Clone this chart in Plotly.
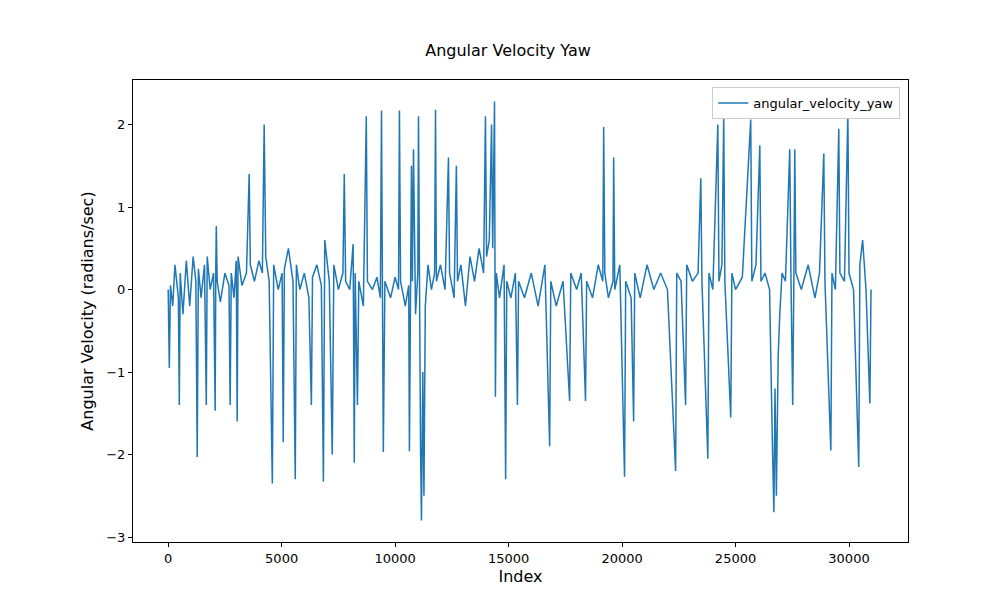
import plotly.graph_objects as go

# index (thousands) and yaw rate, spikes plus baseline wiggle
index_k = [
    0.0, 0.05, 0.1, 0.2, 0.3, 0.45, 0.49, 0.53, 0.65, 0.8, 0.95, 1.1, 1.22, 1.28, 1.33, 1.45,
    1.6, 1.68, 1.72, 1.85, 2.0, 2.07, 2.1, 2.12, 2.16, 2.3, 2.5, 2.68, 2.73, 2.78, 2.9, 3.0,
    3.04, 3.08, 3.25, 3.45, 3.57, 3.62, 3.8, 4.0, 4.15, 4.23, 4.3, 4.45, 4.59, 4.65, 4.85,
    5.02, 5.07, 5.12, 5.3, 5.5, 5.6, 5.65, 5.8, 6.0, 6.2, 6.31, 6.36, 6.55, 6.75, 6.84, 6.9,
    7.1, 7.23, 7.3, 7.5, 7.7, 7.76, 7.82, 8.0, 8.15, 8.2, 8.24, 8.34, 8.4, 8.6, 8.73, 8.78,
    9.0, 9.2, 9.35, 9.4, 9.45, 9.48, 9.55, 9.8, 10.0, 10.15, 10.19, 10.24, 10.45, 10.6,
    10.63, 10.68, 10.72, 10.76, 10.81, 10.9, 11.0, 11.03, 11.08, 11.12, 11.16, 11.22, 11.27,
    11.33, 11.45, 11.6, 11.74, 11.78, 11.82, 12.0, 12.2, 12.35, 12.4, 12.6, 12.7, 12.75,
    12.9, 13.1, 13.3, 13.5, 13.7, 13.9, 13.98, 14.03, 14.15, 14.25, 14.3, 14.38, 14.4, 14.42,
    14.46, 14.6, 14.8, 14.87, 14.92, 15.1, 15.3, 15.39, 15.44, 15.7, 16.0, 16.3, 16.6, 16.81,
    16.86, 17.1, 17.4, 17.69, 17.74, 18.0, 18.2, 18.39, 18.44, 18.7, 18.95, 19.15, 19.19,
    19.24, 19.4, 19.6, 19.63, 19.68, 19.9, 20.11, 20.16, 20.4, 20.51, 20.56, 20.8, 21.1,
    21.4, 21.7, 22.0, 22.36, 22.41, 22.6, 22.8, 22.85, 23.1, 23.35, 23.47, 23.52, 23.78,
    23.83, 24.0, 24.22, 24.27, 24.4, 24.48, 24.53, 24.79, 24.84, 25.0, 25.3, 25.67, 25.72,
    25.9, 26.07, 26.12, 26.3, 26.5, 26.55, 26.62, 26.69, 26.74, 26.8, 26.88, 26.95, 27.05,
    27.2, 27.39, 27.44, 27.52, 27.57, 27.61, 27.66, 27.9, 28.2, 28.5, 28.7, 28.89, 28.94,
    29.2, 29.25, 29.4, 29.55, 29.6, 29.8, 29.95, 30.0, 30.2, 30.43, 30.48, 30.6, 30.75,
    30.92, 30.97,
]
yaw = [
    0.0, -0.95, 0.05, -0.2, 0.3, -0.1, -1.4, 0.2, -0.3, 0.35, -0.2, 0.4, 0.1, -2.03, 0.25,
    -0.1, 0.3, -1.4, 0.4, 0.0, 0.2, -1.47, 0.3, 0.77, 0.1, -0.15, 0.2, 0.05, -1.4, 0.2,
    -0.1, 0.35, -1.6, 0.4, 0.05, 0.2, 1.4, 0.3, 0.1, 0.35, 0.2, 2.0, 0.4, 0.1, -2.35,
    0.3, 0.0, 0.2, -1.85, 0.25, 0.5, 0.1, -2.3, 0.3, 0.0, 0.2, -0.1, -1.4, 0.15, 0.3, 0.05,
    -2.33, 0.6, 0.1, -2.0, 0.3, 0.0, 0.2, 1.4, 0.1, 0.0, 0.55, -2.1, 0.2, -1.4, 0.1, -0.2,
    2.1, 0.1, 0.0, 0.15, -0.1, 2.17, 0.05, -1.97, 0.1, -0.1, 0.15, 0.0, 2.17, 0.1, -0.2,
    0.05, -1.96, 0.2, 1.5, 0.1, 1.7, -0.3, 0.2, 2.1, -0.5, -1.9, -2.8, -1.0, -2.5, -0.2,
    0.3, 0.0, 0.2, 2.18, 0.1, 0.3, 0.0, 1.6, 0.2, -0.1, 1.5, 0.1, 0.3, -0.2, 0.4, 0.1,
    0.5, 0.2, 2.1, 0.4, 0.6, 2.0, 0.5, 2.28, 0.3, -1.3, 0.2, -0.1, 0.3, -2.3, 0.1, -0.1,
    0.2, -1.4, 0.1, -0.1, 0.2, -0.2, 0.3, -1.9, 0.1, -0.2, 0.1, -1.35, 0.2, 0.0, 0.2,
    -1.35, 0.1, -0.1, 0.3, 0.1, 1.97, 0.2, -0.1, 0.1, 1.6, 0.0, 0.3, -2.27, 0.1, -0.1,
    -1.6, 0.2, -0.1, 0.3, 0.0, 0.2, 0.0, -2.2, 0.2, 0.1, -1.4, 0.3, 0.1, 0.2, 1.35, 0.1,
    -2.05, 0.2, 0.0, 2.0, 0.1, 0.3, 2.1, 0.1, -1.55, 0.2, 0.0, 0.15, 2.06, 0.1, 0.3, 1.75,
    0.1, 0.2, 0.0, -0.6, -1.8, -2.7, -1.2, -2.5, -0.8, -0.3, 0.2, 0.1, 1.7, 0.2, -1.4, 0.1,
    1.7, 0.2, 0.0, 0.3, -0.1, 0.2, 1.65, 0.1, -1.95, 0.2, 0.0, 1.95, 0.2, 0.1, 2.15, 0.2,
    0.0, -2.15, 0.3, 0.6, 0.0, -1.38, 0.0,
]
index = [k * 1000 for k in index_k]

x_ticks = [0, 5000, 10000, 15000, 20000, 25000, 30000]
y_ticks = [-3, -2, -1, 0, 1, 2]

fig = go.Figure()
fig.add_trace(go.Scatter(
    x=index, y=yaw, mode='lines', name='angular_velocity_yaw',
    line=dict(color='#1f77b4', width=1.5)
))

axis_style = dict(showgrid=False, zeroline=False, showline=True, linecolor='black',
                  mirror=True, ticks='outside', tickcolor='black', ticklen=4,
                  automargin=False)
fig.update_layout(
    width=1000, height=600,
    plot_bgcolor='white', paper_bgcolor='white',
    font=dict(family='DejaVu Sans', size=13, color='black'),
    title=dict(text='Angular Velocity Yaw', x=0.5, xanchor='center', y=0.92, yanchor='bottom',
               font=dict(size=16)),
    margin=dict(l=125, r=100, t=72, b=66),
    xaxis=dict(title=dict(text='Index', standoff=6), range=[-1550, 32600],
               tickvals=x_ticks, ticktext=[str(v) for v in x_ticks], **axis_style),
    yaxis=dict(title=dict(text='Angular Velocity (radians/sec)', standoff=8), range=[-3.06, 2.54],
               tickvals=y_ticks, ticktext=['\u22123', '\u22122', '\u22121', '0', '1', '2'],
               **axis_style),
    showlegend=True,
    legend=dict(x=0.99, y=0.985, xanchor='right', yanchor='top', bordercolor='#cccccc',
                borderwidth=1, bgcolor='white'),
)

fig.write_html('out.html')
